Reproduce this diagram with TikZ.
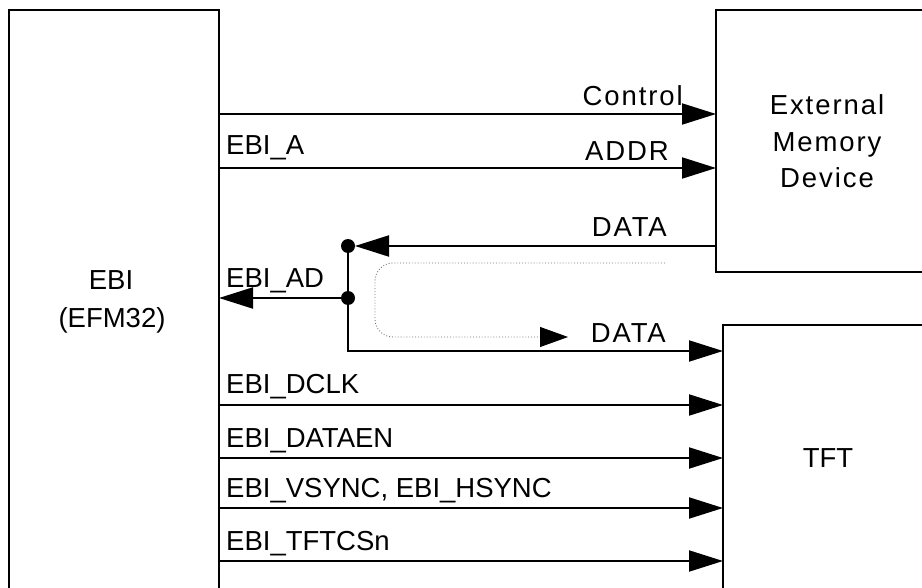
\documentclass[tikz,border=0pt]{standalone}
\usepackage{fontspec}
\setmainfont{Liberation Sans}
\usetikzlibrary{arrows.meta}
\tikzset{
  box/.style={draw, line width=1.6pt, rectangle, inner sep=0pt, outer sep=0pt, anchor=north west},
  sig/.style={line width=2pt, -{Triangle[length=34pt,width=21pt]}},
  jdot/.style={circle, fill, inner sep=0pt, minimum size=14pt, outer sep=0pt},
  lbl/.style={inner sep=0pt, font=\fontsize{27.5}{32}\selectfont},
  rlbl/.style={inner sep=0pt, font=\fontsize{27.5}{32}\selectfont\addfontfeature{LetterSpace=7}},
  hint/.style={draw=black!55, line width=0.9pt, dotted, rounded corners=18pt, -{Triangle[length=28pt,width=20pt,black]}},
}
\begin{document}
\begin{tikzpicture}[x=1pt,y=-1pt]
\useasboundingbox (0,0) rectangle (922,588);
\clip (0,0) rectangle (922,588);
% boxes
\node[box, minimum width=210pt, minimum height=640pt] (ebi) at (9,10) {};
\node[box, minimum width=260pt, minimum height=262pt] (mem) at (716,10) {};
\node[box, minimum width=260pt, minimum height=320pt] (tft) at (723,325) {};
% box texts
\node[lbl, anchor=base] (ebit1) at (111,290) {EBI};
\node[lbl, anchor=base] (ebit2) at (112,327) {(EFM32)};
\node[rlbl, anchor=base] (memt1) at (827,115) {External};
\node[rlbl, anchor=base] (memt2) at (827,152) {Memory};
\node[rlbl, anchor=base] (memt3) at (827,188) {Device};
\node[lbl, anchor=base] (tftt) at (828,467) {TFT};
% y levels
\coordinate (yctl) at (0,114);
\coordinate (yadr) at (0,168);
\coordinate (ydat) at (0,351);
\coordinate (ydclk) at (0,405);
\coordinate (yden) at (0,458);
\coordinate (yvs) at (0,508);
\coordinate (ycs) at (0,561);
% junctions
\node[jdot] (j1) at (348,246) {};
\node[jdot] (j2) at (348,298) {};
% connectors
\draw[sig] (ebi.east |- yctl) -- (mem.west |- yctl);
\draw[sig] (ebi.east |- yadr) -- (mem.west |- yadr);
\draw[sig] (mem.west |- j1) -- (j1);
\draw[sig] (j2) -- (ebi.east |- j2);
\draw[sig] (j1.center) |- (tft.west |- ydat);
\draw[sig] (ebi.east |- ydclk) -- (tft.west |- ydclk);
\draw[sig] (ebi.east |- yden) -- (tft.west |- yden);
\draw[sig] (ebi.east |- yvs) -- (tft.west |- yvs);
\draw[sig] (ebi.east |- ycs) -- (tft.west |- ycs);
% dotted hint
\coordinate (h0) at (665,263);
\coordinate (h3) at (568,337);
\draw[hint] (h0) -- (375,263) -- (375,337) -- (h3);
% labels
\node[rlbl, anchor=base east] (lctl) at (683,106) {Control};
\node[rlbl, anchor=base east] (ladr) at (669,161) {ADDR};
\node[rlbl, anchor=base east] (ldat1) at (667,237) {DATA};
\node[rlbl, anchor=base east] (ldat2) at (666,342) {DATA};
\node[lbl, anchor=base west] (la) at (226,155) {EBI\_A};
\node[lbl, anchor=base west] (lad) at (226,288) {EBI\_AD};
\node[lbl, anchor=base west] (ldclk) at (226,393) {EBI\_DCLK};
\node[lbl, anchor=base west] (lden) at (226,447) {EBI\_DATAEN};
\node[lbl, anchor=base west] (lvs) at (226,497) {EBI\_VSYNC, EBI\_HSYNC};
\node[lbl, anchor=base west] (lcs) at (226,550) {EBI\_TFTCSn};
\end{tikzpicture}
\end{document}
